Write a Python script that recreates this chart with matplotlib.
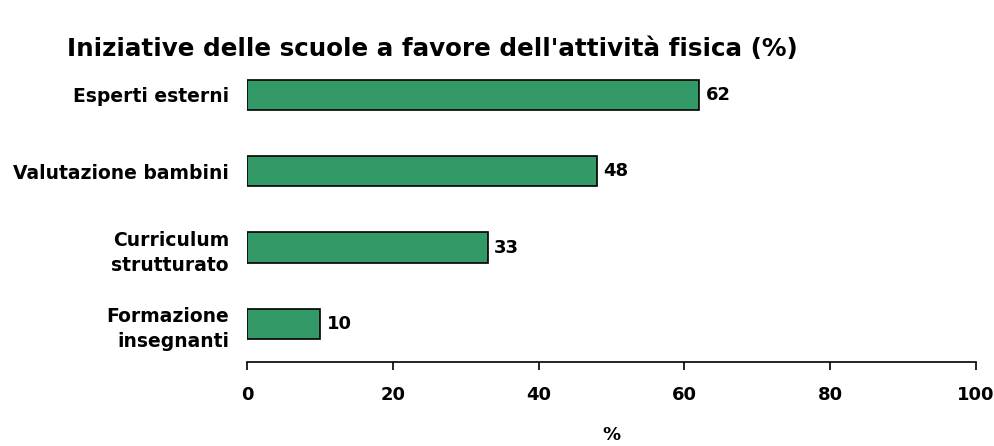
import matplotlib.pyplot as plt

plt.rcParams['font.family'] = ['DejaVu Sans']
plt.rcParams['font.weight'] = 'bold'

categorie = ["Formazione\ninsegnanti", "Curriculum\nstrutturato", "Valutazione bambini", "Esperti esterni"]
valori = [10, 33, 48, 62]

fig = plt.figure(figsize=(9.94, 4.46), dpi=100)
ax = fig.add_axes([0.2485, 0.188, 0.7335, 0.685])

y = range(len(categorie))
ax.barh(y, valori, height=0.4, color='#339966', edgecolor='black', linewidth=1.2)
for i, v in zip(y, valori):
    ax.text(v + 0.9, i, str(v), va='center', ha='left', fontsize=13, fontweight='bold')

ax.set_xlim(0, 100)
ax.set_ylim(-0.5, 3.5)
ax.set_yticks(list(y))
ax.set_yticklabels(categorie, fontsize=13.5, fontweight='bold', linespacing=1.4)
ax.tick_params(axis='y', length=0, pad=13)
ax.set_xticks([0, 20, 40, 60, 80, 100])
ax.tick_params(axis='x', direction='out', length=6, width=1.2, labelsize=13, pad=11)
for lab in ax.get_xticklabels():
    lab.set_fontweight('bold')
for s in ['top', 'right', 'left']:
    ax.spines[s].set_visible(False)
ax.spines['bottom'].set_linewidth(1.2)
ax.set_xlabel('%', fontsize=13, fontweight='bold', labelpad=16)

fig.text(0.067, 0.89, "Iniziative delle scuole a favore dell'attività fisica (%)",
         fontsize=17.75, fontweight='bold', ha='left', va='center')

fig.savefig('out.png', dpi=100)
